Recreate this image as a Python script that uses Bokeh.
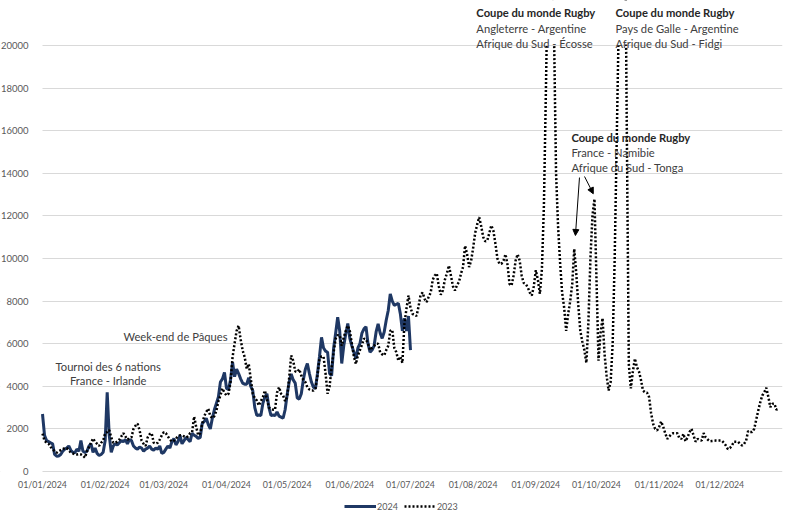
import pandas as pd
from bokeh.plotting import figure
from bokeh.models import (ColumnDataSource, FixedTicker, DatetimeTickFormatter, Range1d, Label,
                          Arrow, NormalHead, Legend, LegendItem, NumeralTickFormatter, BoxAnnotation)
from bokeh.embed import file_html
from bokeh.resources import INLINE

START = "2024-01-01"
END = "2025-01-01"

# Daily values, 2024 (from 01/01/2024)
visits_2024 = [
    2700, 1700, 1450, 1400, 1350, 1300, 800, 720, 730, 800,
    950, 1050, 1100, 1200, 1000, 900, 880, 1050, 950, 1450,
    950, 900, 950, 1200, 1300, 900, 1100, 850, 750, 800,
    900, 1450, 3720, 1700, 900, 1200, 1300, 1250, 1350, 1450,
    1400, 1500, 1300, 1500, 1450, 1200, 1100, 1050, 1150, 1100,
    950, 1050, 1100, 1200, 1050, 1000, 1100, 1050, 1200, 850,
    900, 1050, 1200, 1100, 1400, 1550, 1250, 1400, 1700, 1300,
    1450, 1600, 1500, 1400, 1800, 1700, 1650, 1550, 1600, 2250,
    2350, 2500, 2200, 2000, 2500, 2900, 3200, 3500, 4200, 4350,
    4650, 3900, 3850, 4300, 5130, 4450, 4800, 4600, 4350, 4150,
    4100, 4100, 4400, 4000, 3800, 3000, 2630, 2650, 2630, 3200,
    3500, 3650, 3000, 2630, 2650, 2630, 2800, 2600, 2550, 2500,
    2900, 3600, 4200, 4580, 4300, 4150, 3450, 3400, 3650, 4300,
    4800, 5070, 4600, 4200, 3960, 3900, 4600, 5400, 6300, 5800,
    5650, 5600, 4600, 4500, 5800, 6500, 7240, 6600, 5070, 5900,
    6470, 6950, 6250, 5900, 5600, 5300, 5800, 6000, 6500, 6700,
    6800, 6000, 5600, 5700, 5900, 6550, 6930, 6500, 6250, 6550,
    7100, 7560, 8340, 8000, 7800, 7850, 7900, 7400, 6600, 7200,
    6600, 7300, 5700,
]

# Daily values, 2023 (aligned on the 2024 calendar)
visits_2023 = [
    1780, 1450, 1350, 1300, 1150, 1050, 950, 880, 950, 1000,
    1050, 1100, 1100, 1000, 880, 850, 800, 800, 820, 800,
    750, 650, 950, 1150, 1350, 1550, 1400, 1300, 1200, 1350,
    1450, 1800, 1850, 1950, 1600, 1350, 1350, 1400, 1500, 1650,
    1800, 1650, 1500, 1550, 1600, 2000, 2150, 2250, 1950, 1450,
    1300, 1200, 1600, 1750, 1800, 1350, 1300, 1350, 1500, 1700,
    1850, 1800, 1650, 1500, 1400, 1450, 1550, 1650, 1700, 1700,
    1650, 1600, 1650, 1800, 1850, 2580, 2100, 1700, 1800, 2250,
    2600, 2800, 2950, 2600, 2500, 2600, 2850, 3300, 3570, 3900,
    3700, 3570, 3650, 4200, 5370, 6000, 6600, 6850, 6200, 5680,
    5370, 4820, 5050, 4350, 3650, 3450, 3330, 3100, 3300, 3500,
    3800, 3400, 3000, 2950, 2900, 2900, 3700, 3960, 3650, 3570,
    3300, 3500, 4400, 5450, 5200, 4700, 4670, 4800, 4500, 4300,
    4200, 3960, 3850, 3800, 3800, 3900, 4500, 5300, 5400, 5400,
    4600, 3650, 4000, 4900, 5600, 6240, 6400, 6400, 5900, 6300,
    6600, 6850, 6600, 6000, 5400, 5050, 5450, 5700, 5950, 6240,
    6200, 6000, 5700, 5800, 5900, 6000, 6000, 5600, 5500, 5450,
    5700, 5900, 6600, 6650, 5800, 5600, 5200, 5400, 5100, 6930,
    7630, 8260, 7700, 7400, 7350, 7300, 7750, 8300, 8400, 8100,
    7950, 8200, 8400, 9000, 9200, 9300, 8700, 8300, 8500, 9000,
    9300, 9670, 9200, 8700, 8500, 8750, 8900, 9300, 9600, 10600,
    10200, 9600, 9900, 10500, 11200, 11600, 11940, 11500, 11000, 10800,
    10850, 11200, 11550, 11300, 10700, 10000, 9750, 9750, 9900, 10200,
    9700, 8800, 8730, 9200, 9900, 10200, 9900, 9200, 8850, 8800,
    8650, 8400, 8260, 8700, 9450, 9000, 8340, 9500, 12500, 18000,
    24000, 28000, 26000, 20500, 14000, 11500, 9800, 8400, 7700, 6600,
    7400, 8000, 8800, 10450, 9300, 7800, 6600, 6100, 5700, 5100,
    7000, 10000, 12000, 12800, 9000, 5200, 6500, 7200, 5500, 4500,
    3800, 4200, 6000, 10000, 15500, 21000, 30000, 30000, 28000, 16000,
    5000, 3900, 4700, 5300, 4900, 4700, 4300, 3800, 3720, 3700,
    3500, 2750, 2240, 2000, 1930, 2100, 2350, 2100, 1800, 1530,
    1640, 1750, 1800, 1800, 1800, 1560, 1530, 1770, 1420, 1600,
    1850, 2000, 1700, 1400, 1530, 1480, 1450, 1800, 1600, 1500,
    1420, 1430, 1440, 1450, 1450, 1450, 1450, 1350, 1220, 1050,
    1100, 1220, 1400, 1400, 1400, 1300, 1220, 1300, 1450, 1900,
    1850, 1850, 2000, 2430, 2860, 3250, 3570, 3720, 3930, 3500,
    3020, 3180, 3180, 2900, 2950,
]

month_ticks = ["2024-01-01", "2024-02-01", "2024-03-01", "2024-04-01", "2024-05-01", "2024-06-01",
               "2024-07-01", "2024-08-01", "2024-09-01", "2024-10-01", "2024-11-01", "2024-12-01"]
y_ticks = [0, 2000, 4000, 6000, 8000, 10000, 12000, 14000, 16000, 18000, 20000]
AXIS_MAX = 20000
series_labels = ["2024", "2023"]


def ms(s):
    return pd.Timestamp(s).value / 1e6


FONT = "Lato"
TXT = "#404040"
GRAY = "#595959"

# The frame spans the whole figure: axis labels, annotation band and legend live inside it,
# with both axes pinned (x axis at zero, y axis at 01/01/2024).
FRAME_W = 782
LEFT_PX = 42           # space for the y tick labels, left of 01/01/2024
FRAME_H = 512
ZERO_PX = 471          # distance of the zero line from the top of the frame
PLOT_PX = 426          # pixel height of 0..AXIS_MAX
Y_TOP = AXIS_MAX * ZERO_PX / PLOT_PX
Y_BOT = -AXIS_MAX * (FRAME_H - ZERO_PX) / PLOT_PX
X0, X1 = ms(START), ms(END)
X_LEFT = X0 - (X1 - X0) * LEFT_PX / (FRAME_W - LEFT_PX)

src24 = ColumnDataSource(dict(date=pd.date_range(START, periods=len(visits_2024), freq="D"), v=visits_2024))
src23 = ColumnDataSource(dict(date=pd.date_range(START, periods=len(visits_2023), freq="D"), v=visits_2023))

p = figure(frame_width=FRAME_W, frame_height=FRAME_H, output_backend="svg", toolbar_location=None,
           x_axis_type="datetime",
           x_range=Range1d(X_LEFT, X1), y_range=Range1d(Y_BOT, Y_TOP),
           min_border_left=0, min_border_right=3, min_border_top=0, min_border_bottom=0)
p.outline_line_color = None
p.background_fill_color = "white"
p.border_fill_color = "white"

p.xgrid.visible = False
p.ygrid.grid_line_color = "#D9D9D9"
p.ygrid.grid_line_width = 1

# keep gridlines from running under the y tick labels
p.add_layout(BoxAnnotation(right=X0 - 1, fill_color="white", fill_alpha=1.0, line_color=None,
                           level="underlay"))

p.yaxis.ticker = FixedTicker(ticks=y_ticks)
p.yaxis.formatter = NumeralTickFormatter(format="0")
p.xaxis.ticker = FixedTicker(ticks=[ms(t) for t in month_ticks])
fmt = "%d/%m/%Y"
p.xaxis.formatter = DatetimeTickFormatter(days=fmt, months=fmt, years=fmt, hours=fmt,
                                          minutes=fmt, seconds=fmt, milliseconds=fmt,
                                          microseconds=fmt, hourmin=fmt, minsec=fmt)
p.xaxis.fixed_location = 0
p.yaxis.fixed_location = X0
for ax in p.axis:
    ax.major_tick_line_color = None
    ax.minor_tick_line_color = None
    ax.axis_line_color = None
    ax.major_label_text_font = FONT
    ax.major_label_text_color = GRAY
p.yaxis.major_label_text_font_size = "9.5px"
p.xaxis.major_label_text_font_size = "8.8px"
p.yaxis.major_label_standoff = 8
p.xaxis.major_label_standoff = 1

r24 = p.line(x="date", y="v", source=src24, line_color="#1F3864", line_width=3)
r23 = p.line(x="date", y="v", source=src23, line_color="black", line_width=2.5, line_dash="2 2")

# values beyond the axis maximum are cut off, as on the original axis
p.add_layout(BoxAnnotation(left=X0, bottom=AXIS_MAX + 50, fill_color="white", fill_alpha=1.0,
                           line_color=None))

legend = Legend(items=[LegendItem(label=series_labels[0], renderers=[r24]),
                       LegendItem(label=series_labels[1], renderers=[r23])],
                orientation="horizontal", location=(344, 0),
                border_line_color=None, background_fill_alpha=0,
                label_text_font=FONT, label_text_font_size="9px", label_text_color=GRAY,
                glyph_width=32, glyph_height=12, label_standoff=1, spacing=6,
                padding=0, margin=0, label_height=12)
p.add_layout(legend, "center")

# Annotations (text, date anchor, value anchor, align, bold)
annotations = [
    ("Tournoi des 6 nations", "2024-02-02 12:00", 4930, "center", False),
    ("France - Irlande", "2024-02-02 12:00", 4270, "center", False),
    ("Week-end de Pâques", "2024-04-01 12:00", 6340, "right", False),
    ("Coupe du monde Rugby", "2024-08-02 14:00", 21550, "left", True),
    ("Angleterre - Argentine", "2024-08-02 14:00", 20800, "left", False),
    ("Afrique du Sud - Écosse", "2024-08-02 14:00", 20090, "left", False),
    ("Coupe du monde Rugby", "2024-10-10 10:00", 21550, "left", True),
    ("Pays de Galle - Argentine", "2024-10-10 10:00", 20800, "left", False),
    ("Afrique du Sud - Fidgi", "2024-10-10 10:00", 20090, "left", False),
    ("Coupe du monde Rugby", "2024-09-18 14:00", 15680, "left", True),
    ("France - Namibie", "2024-09-18 14:00", 14980, "left", False),
    ("Afrique du Sud - Tonga", "2024-09-18 14:00", 14270, "left", False),
]
for text, d, yv, align, bold in annotations:
    p.add_layout(Label(x=ms(d), y=yv, text=text, text_align=align, text_baseline="middle",
                       text_font=FONT, text_font_size="11.2px",
                       text_font_style="bold" if bold else "normal",
                       text_color="#262626" if bold else TXT))

arrows = [
    ("2024-09-22 14:00", 13800, "2024-09-20 14:00", 11080),
    ("2024-09-25 02:00", 13850, "2024-09-29 10:00", 13040),
]
for xs, ys, xe, ye in arrows:
    p.add_layout(Arrow(x_start=ms(xs), y_start=ys, x_end=ms(xe), y_end=ye,
                       line_color="black", line_width=1,
                       end=NormalHead(size=6, fill_color="black", line_color="black")))

open("out.html", "w").write(file_html(p, INLINE))
